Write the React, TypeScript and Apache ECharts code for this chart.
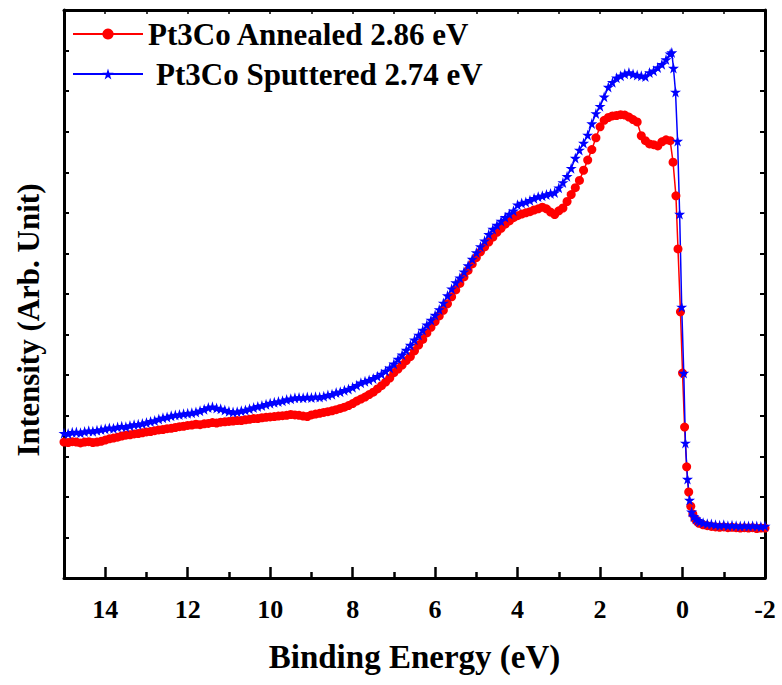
import React, { useEffect, useRef } from "react";
import * as echarts from "echarts";

const annealedName = "Pt3Co Annealed 2.86 eV";
const sputteredName = "Pt3Co Sputtered 2.74 eV";

const xTickLabels = ["14", "12", "10", "8", "6", "4", "2", "0", "-2"];

// broad region energies: 15.0 down to 0.3 eV (0.1 eV steps)
const broadEnergy: number[] = [];
for (let i = 150; i >= 3; i--) broadEnergy.push(i / 10);

const annealedBroad = [
  3.35, 3.34, 3.36, 3.35, 3.33, 3.35, 3.36, 3.34, 3.35, 3.37,
  3.40, 3.43, 3.45, 3.47, 3.50, 3.52, 3.53, 3.55, 3.56, 3.58,
  3.60, 3.61, 3.63, 3.65, 3.66, 3.68, 3.69, 3.71, 3.73, 3.74,
  3.76, 3.77, 3.79, 3.78, 3.80, 3.81, 3.83, 3.82, 3.84, 3.85,
  3.86, 3.87, 3.88, 3.88, 3.90, 3.91, 3.93, 3.93, 3.95, 3.96,
  3.97, 3.98, 3.99, 4.00, 4.01, 4.03, 4.02, 4.01, 3.99, 3.98,
  4.02, 4.04, 4.06, 4.08, 4.10, 4.12, 4.15, 4.18, 4.21, 4.25,
  4.30, 4.36, 4.41, 4.46, 4.52, 4.58, 4.66, 4.74, 4.83, 4.93,
  5.06, 5.15, 5.25, 5.36, 5.46, 5.60, 5.74, 5.88, 6.04, 6.18,
  6.32, 6.46, 6.60, 6.76, 6.93, 7.10, 7.26, 7.42, 7.58, 7.74,
  7.90, 8.04, 8.16, 8.28, 8.40, 8.52, 8.62, 8.72, 8.80, 8.88,
  8.93, 8.97, 9.00, 9.03, 9.07, 9.10, 9.14, 9.10, 9.02, 8.96,
  9.05, 9.12, 9.28, 9.45, 9.62, 9.80, 10.05, 10.30, 10.56, 10.85,
  11.12, 11.28, 11.35, 11.39, 11.40, 11.42, 11.41, 11.36, 11.30, 11.24,
  10.90, 10.78, 10.70, 10.68, 10.65, 10.75, 10.80, 10.78,
];

const sputteredBroad = [
  3.57, 3.56, 3.59, 3.60, 3.58, 3.61, 3.63, 3.62, 3.64, 3.66,
  3.68, 3.70, 3.69, 3.72, 3.74, 3.73, 3.76, 3.78, 3.79, 3.81,
  3.83, 3.86, 3.88, 3.92, 3.95, 3.97, 4.00, 4.02, 4.03, 4.05,
  4.06, 4.07, 4.09, 4.12, 4.16, 4.20, 4.22, 4.19, 4.17, 4.14,
  4.11, 4.09, 4.10, 4.12, 4.14, 4.17, 4.20, 4.23, 4.25, 4.28,
  4.31, 4.33, 4.35, 4.37, 4.40, 4.42, 4.44, 4.45, 4.44, 4.46,
  4.45, 4.47, 4.46, 4.48, 4.51, 4.53, 4.57, 4.59, 4.63, 4.66,
  4.70, 4.75, 4.81, 4.85, 4.88, 4.92, 4.97, 5.03, 5.10, 5.18,
  5.28, 5.40, 5.50, 5.62, 5.74, 5.87, 5.99, 6.11, 6.24, 6.36,
  6.48, 6.62, 6.78, 6.96, 7.13, 7.28, 7.40, 7.55, 7.70, 7.86,
  8.02, 8.17, 8.31, 8.47, 8.60, 8.70, 8.80, 8.89, 8.97, 9.05,
  9.20, 9.24, 9.27, 9.31, 9.36, 9.40, 9.42, 9.45, 9.48, 9.50,
  9.62, 9.75, 9.90, 10.10, 10.35, 10.55, 10.72, 10.92, 11.20, 11.45,
  11.63, 11.86, 12.10, 12.22, 12.33, 12.38, 12.43, 12.46, 12.42, 12.40,
  12.38, 12.36, 12.46, 12.50, 12.58, 12.66, 12.78, 12.92,
];

// Fermi edge region
const annealedEdgeEnergy = [0.23, 0.16, 0.11, 0.05, 0.0, -0.05, -0.1, -0.15, -0.2, -0.25, -0.3, -0.35, -0.4];
const annealedEdge = [10.25, 9.42, 8.11, 6.56, 5.05, 3.72, 2.74, 2.12, 1.77, 1.58, 1.46, 1.4, 1.35];

const sputteredEdgeEnergy = [0.26, 0.22, 0.17, 0.12, 0.07, 0.02, -0.03, -0.07, -0.12, -0.17, -0.22, -0.27, -0.32, -0.37, -0.42];
const sputteredEdge = [12.95, 12.57, 11.98, 10.77, 8.97, 6.68, 5.05, 3.33, 2.44, 1.92, 1.63, 1.52, 1.46, 1.42, 1.39];

// tail above the Fermi level: -0.5 to -2.0 eV
const tailEnergy: number[] = [];
for (let i = -5; i >= -20; i--) tailEnergy.push(i / 10);
const annealedTail = [1.31, 1.29, 1.27, 1.26, 1.25, 1.26, 1.24, 1.25, 1.24, 1.23, 1.24, 1.23, 1.24, 1.22, 1.23, 1.23];
const sputteredTail = [1.36, 1.34, 1.33, 1.31, 1.3, 1.31, 1.29, 1.3, 1.29, 1.28, 1.29, 1.28, 1.29, 1.28, 1.27, 1.28];

const zip = (xs: number[], ys: number[]) => xs.map((x, i) => [x, ys[i]]);

const annealedData = [
  ...zip(broadEnergy, annealedBroad),
  ...zip(annealedEdgeEnergy, annealedEdge),
  ...zip(tailEnergy, annealedTail),
];
const sputteredData = [
  ...zip(broadEnergy, sputteredBroad),
  ...zip(sputteredEdgeEnergy, sputteredEdge),
  ...zip(tailEnergy, sputteredTail),
];

const STAR = "path://M50,0 L61,35 L98,35 L68,57 L79,91 L50,70 L21,91 L32,57 L2,35 L39,35 Z";
const FONT = "'Liberation Serif', 'Times New Roman', serif";

export default function App() {
  const ref = useRef<HTMLDivElement>(null);
  useEffect(() => {
    if (!ref.current) return;
    const chart = echarts.init(ref.current, undefined, { renderer: "svg" });
    const axisLine = { show: true, onZero: false, lineStyle: { color: "#000", width: 3 } };
    chart.setOption({
      animation: false,
      backgroundColor: "#fff",
      grid: { left: 64, right: 17, top: 10, bottom: 107, containLabel: false },
      legend: {
        orient: "vertical",
        left: 72,
        top: 18,
        padding: 0,
        itemWidth: 70,
        itemHeight: 14,
        itemGap: 8,
        textStyle: { fontFamily: FONT, fontWeight: "bold", fontSize: 31, color: "#000", lineHeight: 32 },
        data: [
          { name: annealedName },
          { name: sputteredName, textStyle: { padding: [0, 0, 0, 8] } },
        ],
      },
      xAxis: [
        {
          type: "value",
          min: -2,
          max: 15,
          interval: 2,
          inverse: true,
          position: "bottom",
          axisLine,
          axisTick: { show: true, inside: true, length: 11, lineStyle: { width: 2.5, color: "#000" } },
          minorTick: { show: true, splitNumber: 2, length: 6, lineStyle: { width: 2.5, color: "#000" } },
          axisLabel: {
            show: true,
            margin: 18,
            fontFamily: FONT,
            fontWeight: "bold",
            fontSize: 26,
            color: "#000",
            formatter: (v: number) => {
              const s = String(v);
              return xTickLabels.includes(s) ? s : "";
            },
          },
          splitLine: { show: false },
          name: "Binding Energy (eV)",
          nameLocation: "middle",
          nameGap: 62,
          nameTextStyle: { fontFamily: FONT, fontWeight: "bold", fontSize: 33, color: "#000" },
        },
        {
          type: "value",
          min: -2,
          max: 15,
          interval: 1,
          inverse: true,
          position: "top",
          axisLine,
          axisTick: { show: true, inside: true, length: 4, lineStyle: { width: 1.5, color: "#000" } },
          axisLabel: { show: false },
          splitLine: { show: false },
        },
      ],
      yAxis: [
        {
          type: "value",
          min: 0,
          max: 14,
          interval: 1,
          position: "left",
          axisLine,
          axisTick: { show: true, inside: true, length: 5, lineStyle: { width: 2, color: "#000" } },
          axisLabel: { show: false },
          splitLine: { show: false },
          name: "Intensity (Arb. Unit)",
          nameLocation: "middle",
          nameGap: 20,
          nameRotate: 90,
          nameTextStyle: {
            fontFamily: FONT,
            fontWeight: "bold",
            fontSize: 31,
            color: "#000",
            padding: [0, 52, 0, 0],
          },
        },
        {
          type: "value",
          min: 0,
          max: 14,
          interval: 1,
          position: "right",
          axisLine,
          axisTick: { show: true, inside: true, length: 5, lineStyle: { width: 2, color: "#000" } },
          axisLabel: { show: false },
          splitLine: { show: false },
        },
      ],
      series: [
        {
          name: annealedName,
          type: "line",
          data: annealedData,
          symbol: "circle",
          symbolSize: 9,
          showAllSymbol: true,
          color: "#ff0000",
          itemStyle: { color: "#ff0000" },
          lineStyle: { color: "#ff0000", width: 1.5 },
        },
        {
          name: sputteredName,
          type: "line",
          data: sputteredData,
          symbol: STAR,
          symbolSize: 11,
          showAllSymbol: true,
          color: "#0000ff",
          itemStyle: { color: "#0000ff" },
          lineStyle: { color: "#0000ff", width: 1.5 },
        },
      ],
    });
    return () => chart.dispose();
  }, []);
  return <div ref={ref} style={{ width: 782, height: 685, position: "absolute", left: 0, top: 0 }} />;
}
